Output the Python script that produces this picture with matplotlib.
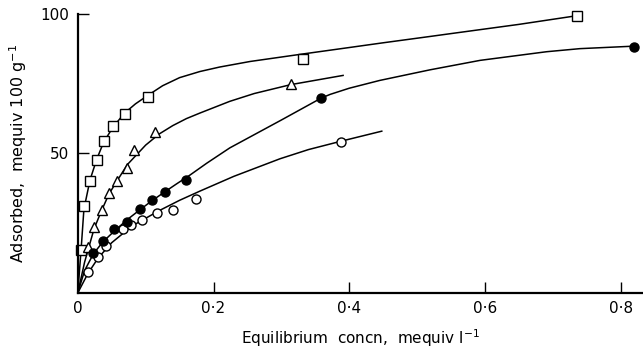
import matplotlib.pyplot as plt

# measured points (equilibrium concn, adsorbed)
sq_x = [0.005, 0.009, 0.018, 0.028, 0.038, 0.052, 0.069, 0.103, 0.332, 0.735]
sq_y = [15.5, 31.0, 40.0, 47.6, 54.4, 59.8, 64.3, 70.3, 83.8, 99.4]

tri_x = [0.015, 0.024, 0.035, 0.046, 0.058, 0.073, 0.083, 0.114, 0.314]
tri_y = [16.3, 23.5, 29.8, 36.0, 40.1, 44.9, 51.2, 57.6, 74.9]

fc_x = [0.023, 0.037, 0.054, 0.073, 0.091, 0.109, 0.128, 0.159, 0.359, 0.820]
fc_y = [14.3, 18.5, 22.9, 25.5, 30.0, 33.2, 36.2, 40.5, 69.9, 88.3]

oc_x = [0.015, 0.030, 0.042, 0.066, 0.078, 0.094, 0.116, 0.141, 0.174, 0.388]
oc_y = [7.4, 12.7, 16.9, 22.9, 24.3, 26.1, 28.5, 29.8, 33.8, 54.2]

# fitted curves
sq_cx = [0, 0.005, 0.009, 0.018, 0.028, 0.038, 0.052, 0.069, 0.085, 0.103, 0.125, 0.15,
         0.18, 0.209, 0.254, 0.332, 0.40, 0.45, 0.52, 0.55, 0.65, 0.735]
sq_cy = [0, 16.0, 30.0, 40.5, 48.0, 54.0, 59.5, 64.5, 67.8, 70.8, 74.3, 77.2,
         79.4, 81.0, 83.0, 85.7, 88.0, 89.7, 92.0, 93.0, 96.3, 99.4]

tri_cx = [0, 0.01, 0.024, 0.035, 0.046, 0.06, 0.073, 0.1, 0.12, 0.14, 0.16, 0.18,
          0.224, 0.26, 0.314, 0.391]
tri_cy = [0, 11.0, 23.0, 29.5, 35.5, 41.0, 46.0, 53.0, 57.0, 60.0, 62.5, 64.5,
          68.7, 71.5, 74.7, 78.0]

fc_cx = [0, 0.01, 0.023, 0.037, 0.054, 0.073, 0.091, 0.109, 0.128, 0.145, 0.165, 0.19,
         0.224, 0.30, 0.359, 0.372, 0.40, 0.445, 0.519, 0.593, 0.691, 0.74, 0.82]
fc_cy = [0, 8.0, 14.0, 18.3, 22.2, 26.3, 29.7, 33.0, 36.2, 39.0, 42.2, 46.5,
         52.0, 62.0, 69.9, 71.2, 73.4, 76.2, 80.0, 83.4, 86.5, 87.6, 88.5]

oc_cx = [0, 0.015, 0.03, 0.05, 0.08, 0.12, 0.15, 0.18, 0.23, 0.298, 0.34, 0.388, 0.448]
oc_cy = [0, 7.0, 12.5, 18.0, 24.0, 29.5, 33.2, 36.5, 41.8, 48.1, 51.4, 54.4, 58.0]

xticks = [0, 0.2, 0.4, 0.6, 0.8]
xticklabels = ["0", "0\u00b72", "0\u00b74", "0\u00b76", "0\u00b78"]
yticks = [50, 100]
yticklabels = ["50", "100"]

plt.rcParams['font.family'] = ['DejaVu Sans']

fig = plt.figure(figsize=(6.43, 3.52), dpi=100)
ax = fig.add_axes([0.121, 0.168, 0.879, 0.792])

lw = 1.1
ax.plot(sq_cx, sq_cy, color='black', lw=lw)
ax.plot(tri_cx, tri_cy, color='black', lw=lw)
ax.plot(fc_cx, fc_cy, color='black', lw=lw)
ax.plot(oc_cx, oc_cy, color='black', lw=lw)

ax.plot(sq_x, sq_y, 's', ms=6.5, mfc='white', mec='black', mew=1.0, clip_on=False)
ax.plot(tri_x, tri_y, '^', ms=7, mfc='white', mec='black', mew=1.0, clip_on=False)
ax.plot(oc_x, oc_y, 'o', ms=6.5, mfc='white', mec='black', mew=1.0, clip_on=False)
ax.plot(fc_x, fc_y, 'o', ms=6.5, mfc='black', mec='black', mew=1.0, clip_on=False)

ax.set_xlim(0, 0.833)
ax.set_ylim(0, 100)
ax.spines['top'].set_visible(False)
ax.spines['right'].set_visible(False)
ax.spines['left'].set_linewidth(1.6)
ax.spines['bottom'].set_linewidth(1.6)

ax.set_xticks(xticks)
ax.set_xticklabels(xticklabels, fontsize=11)
ax.set_yticks(yticks)
ax.set_yticklabels(yticklabels, fontsize=11)
ax.tick_params(direction='in', length=8, width=1.0, pad=6)

ax.set_xlabel("Equilibrium  concn,  mequiv l$^{-1}$", fontsize=11, labelpad=8)
ax.set_ylabel("Adsorbed,  mequiv 100 g$^{-1}$", fontsize=11.5, labelpad=8)

fig.savefig("out.png", dpi=100)
